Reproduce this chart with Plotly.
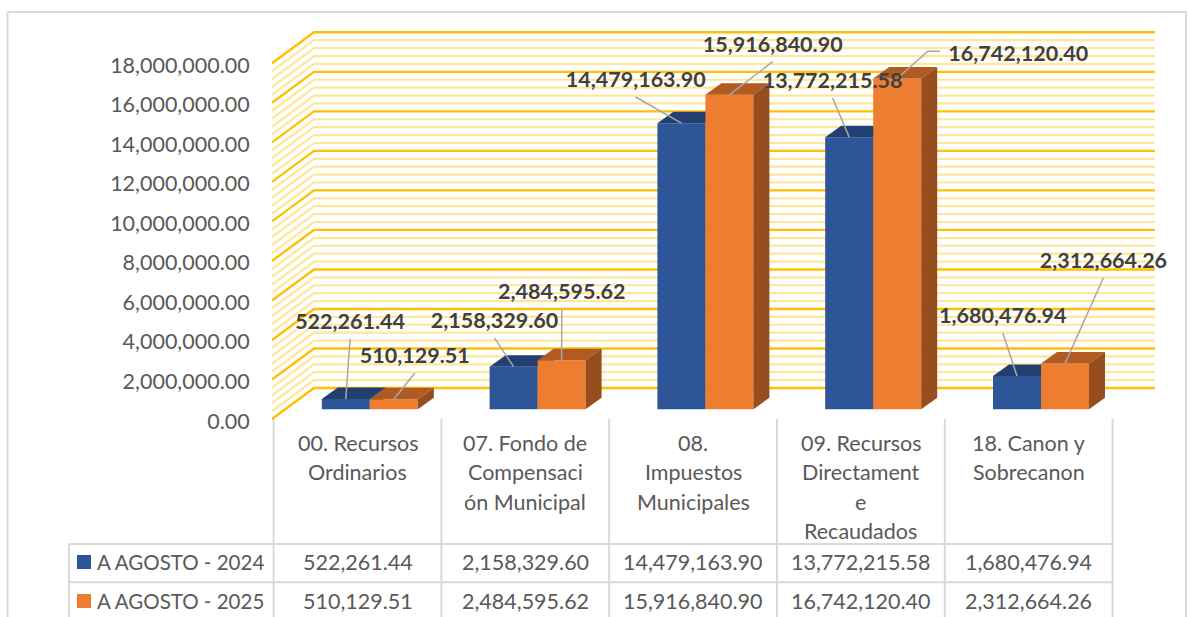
import plotly.graph_objects as go

# ---------- data ----------
CATEGORY_LINES = [
    ["00. Recursos", "Ordinarios"],
    ["07. Fondo de", "Compensaci", "ón Municipal"],
    ["08.", "Impuestos", "Municipales"],
    ["09. Recursos", "Directament", "e", "Recaudados"],
    ["18. Canon y", "Sobrecanon"],
]
SERIES_2024_NAME = "A AGOSTO - 2024"
SERIES_2025_NAME = "A AGOSTO - 2025"
VALUES_2024 = [522261.44, 2158329.60, 14479163.90, 13772215.58, 1680476.94]
VALUES_2025 = [510129.51, 2484595.62, 15916840.90, 16742120.40, 2312664.26]
Y_TICKS = [0, 2e6, 4e6, 6e6, 8e6, 10e6, 12e6, 14e6, 16e6, 18e6]

# ---------- layout constants (pixels of the 1188x617 page) ----------
W, H = 1188, 617
X0_PX, CAT_PX = 273.6, 167.8     # front plane x of category 0 and category width
Y0_PX, M_PX = 419.0, 19.76       # front plane y of value 0 and pixels per million

def dx(px):
    return px / CAT_PX

def dv(px):
    return px / M_PX * 1e6

def ypaper(px):
    return 1 - px / H

X_RANGE = [-X0_PX / CAT_PX, (W - X0_PX) / CAT_PX]
Y_RANGE = [dv(Y0_PX - H), dv(Y0_PX)]

WALL_DX, WALL_DY = dx(42), dv(31)
BAR_PLANE_DX, BAR_BASE = dx(12.3), dv(9.7)
BAR_W = dx(48)
DEPTH_DX, DEPTH_DY = dx(16), dv(11.5)
WALL_RIGHT = dx(1155 - X0_PX)
WALL_LEFT = dx(272 - X0_PX)

BLUE, BLUE_TOP = "#2E5597", "#223F72"
ORANGE, ORANGE_TOP, ORANGE_SIDE = "#ED7D31", "#B15B22", "#964E1E"
TABLE_COLOR = "#D9D9D9"
TEXT_COLOR = "#595959"
LABEL_COLOR = "#404040"
FONT = "Lato"
FS = 21.5
LEGEND_FS = 20.5
LABEL_TEXT_SHIFT_PX = 2.5

# label centre offsets from the front-top centre of each bar (pixels)
LABEL_OFF_2024 = [(4.3, -78.3), (-19.1, -46.6), (-45.7, -44.2), (-16.6, -57.2), (-14.2, -61.1)]
LABEL_OFF_2025 = [(21, -44.2), (0.2, -69), (43.3, -51.1), (121.1, -25.8), (38.4, -103.9)]

fig = go.Figure()

# ---------- back wall and side wall gridlines ----------
for major in (False, True):
    xs, ys = [], []
    step = 400000
    for k in range(0, 46):
        v = k * step
        if (k % 5 == 0) != major:
            continue
        xs += [WALL_LEFT, WALL_LEFT + WALL_DX, WALL_RIGHT, None]
        ys += [v, v + WALL_DY, v + WALL_DY, None]
    fig.add_trace(go.Scatter(
        x=xs, y=ys, mode="lines", hoverinfo="skip", showlegend=False,
        line=dict(color="#FFC000" if major else "#FFE699", width=2.4 if major else 2.2),
    ))

def centers(offset):
    return [i + 0.5 + BAR_PLANE_DX + offset for i in range(5)]

def add_series(values, offset, front, top, side, ax, name):
    cx = centers(offset)
    fig.add_trace(go.Bar(
        x=cx, y=values, base=[BAR_BASE] * 5, width=BAR_W, name=name,
        marker=dict(color=front, line=dict(width=0)), xaxis=ax[0], yaxis=ax[1],
        hoverinfo="skip", showlegend=False,
    ))
    for c, v in zip(cx, values):
        l, r = c - BAR_W / 2, c + BAR_W / 2
        b, t = BAR_BASE, BAR_BASE + v
        fig.add_trace(go.Scatter(
            x=[l, r, r + DEPTH_DX, l + DEPTH_DX, l],
            y=[t, t, t + DEPTH_DY, t + DEPTH_DY, t],
            fill="toself", fillcolor=top, mode="none", hoverinfo="skip",
            showlegend=False, xaxis=ax[0], yaxis=ax[1],
        ))
        fig.add_trace(go.Scatter(
            x=[r, r + DEPTH_DX, r + DEPTH_DX, r, r],
            y=[b, b + DEPTH_DY, t + DEPTH_DY, t, b],
            fill="toself", fillcolor=side, mode="none", hoverinfo="skip",
            showlegend=False, xaxis=ax[0], yaxis=ax[1],
        ))

add_series(VALUES_2024, -BAR_W / 2, BLUE, BLUE_TOP, BLUE_TOP, ("x2", "y2"), SERIES_2024_NAME)
add_series(VALUES_2025, BAR_W / 2, ORANGE, ORANGE_TOP, ORANGE_SIDE, ("x3", "y3"), SERIES_2025_NAME)

# ---------- data labels and leader lines ----------
lx, ly, ltext, sx, sy = [], [], [], [], []
for values, offset, offs, is_2025 in (
    (VALUES_2024, -BAR_W / 2, LABEL_OFF_2024, False),
    (VALUES_2025, BAR_W / 2, LABEL_OFF_2025, True),
):
    for i, (c, v, (ox, oy)) in enumerate(zip(centers(offset), values, offs)):
        ax_, ay_ = c, BAR_BASE + v
        lx.append(ax_ + dx(ox))
        ly.append(ay_ - dv(oy + LABEL_TEXT_SHIFT_PX))
        ltext.append(f"{v:,.2f}")
        if is_2025 and i == 3:
            sx += [ax_, ax_ + dx(ox - 90.5), ax_ + dx(ox - 78.5), None]
            sy += [ay_, ay_ - dv(oy - 1.4), ay_ - dv(oy - 1.4), None]
        else:
            sx += [ax_, ax_ + dx(ox), None]
            sy += [ay_, ay_ - dv(oy + 18), None]

fig.add_trace(go.Scatter(
    x=sx, y=sy, mode="lines", line=dict(color="#A6A6A6", width=1.5),
    hoverinfo="skip", showlegend=False, xaxis="x3", yaxis="y3",
))
fig.add_trace(go.Scatter(
    x=lx, y=ly, text=ltext, mode="text", textposition="middle center",
    textfont=dict(family=FONT, size=FS, color=LABEL_COLOR, weight=700),
    hoverinfo="skip", showlegend=False, xaxis="x3", yaxis="y3",
))

# ---------- data table ----------
shapes, annotations = [], []

def vline(x, xref, y0, y1):
    shapes.append(dict(type="line", xref=xref, yref="paper", x0=x, x1=x,
                       y0=ypaper(y0), y1=ypaper(y1),
                       line=dict(color=TABLE_COLOR, width=2), layer="below"))

def hline(y):
    shapes.append(dict(type="line", xref="paper", yref="paper",
                       x0=69 / W, x1=(X0_PX + 5 * CAT_PX) / W,
                       y0=ypaper(y), y1=ypaper(y),
                       line=dict(color=TABLE_COLOR, width=2), layer="below"))

def cell(x, xref, y, text, anchor="center", size=FS):
    annotations.append(dict(x=x, xref=xref, y=ypaper(y), yref="paper", text=text,
                            showarrow=False, xanchor=anchor, yanchor="middle",
                            font=dict(family=FONT, size=size, color=TEXT_COLOR)))

for i in range(6):
    vline(i, "x", 419, 617)
vline(69 / W, "paper", 544, 617)
hline(544)
hline(582.3)

LINE_Y = [443, 472, 501.5, 530.5]
for i, lines in enumerate(CATEGORY_LINES):
    for y, t in zip(LINE_Y, lines):
        cell(i + 0.5, "x", y, t)

ROW_Y = [562, 601]
for y, values, name, color in (
    (ROW_Y[0], VALUES_2024, SERIES_2024_NAME, BLUE),
    (ROW_Y[1], VALUES_2025, SERIES_2025_NAME, ORANGE),
):
    for i, v in enumerate(values):
        cell(i + 0.5, "x", y, f"{v:,.2f}")
    cell(95 / W, "paper", y, name, anchor="left", size=LEGEND_FS)
    shapes.append(dict(type="rect", xref="paper", yref="paper", x0=77 / W, x1=91 / W,
                       y0=ypaper(y - 7), y1=ypaper(y + 7),
                       fillcolor=color, line=dict(width=0)))

# outer frame
for x0, y0, x1, y1 in ((7.5, 12, 1186, 12), (7.5, 12, 7.5, 617), (1186, 12, 1186, 617)):
    shapes.append(dict(type="line", xref="paper", yref="paper", x0=x0 / W, x1=x1 / W,
                       y0=ypaper(y0), y1=ypaper(y1),
                       line=dict(color=TABLE_COLOR, width=2), layer="below"))

hidden_x = dict(range=X_RANGE, visible=False, fixedrange=True)
hidden_y = dict(range=Y_RANGE, visible=False, fixedrange=True)

fig.update_layout(
    width=W, height=H, margin=dict(l=0, r=0, t=0, b=0),
    paper_bgcolor="white", plot_bgcolor="rgba(0,0,0,0)",
    barmode="overlay", showlegend=False, hovermode=False,
    shapes=shapes, annotations=annotations,
    xaxis=hidden_x,
    yaxis=dict(
        range=Y_RANGE, anchor="free", position=272 / W, side="left", fixedrange=True,
        tickmode="array", tickvals=Y_TICKS, tickformat=",.2f",
        ticks="outside", ticklen=18, tickcolor="rgba(0,0,0,0)",
        ticklabelshift=2,
        showgrid=False, zeroline=False, showline=False,
        tickfont=dict(family=FONT, size=FS, color=TEXT_COLOR),
    ),
    xaxis2=dict(hidden_x, overlaying="x", anchor="y2"),
    yaxis2=dict(hidden_y, overlaying="y", anchor="x2"),
    xaxis3=dict(hidden_x, overlaying="x", anchor="y3"),
    yaxis3=dict(hidden_y, overlaying="y", anchor="x3"),
)

fig.write_html("out.html", config={"displayModeBar": False},
               post_script="document.body.style.margin='0';document.body.style.overflow='hidden';")
